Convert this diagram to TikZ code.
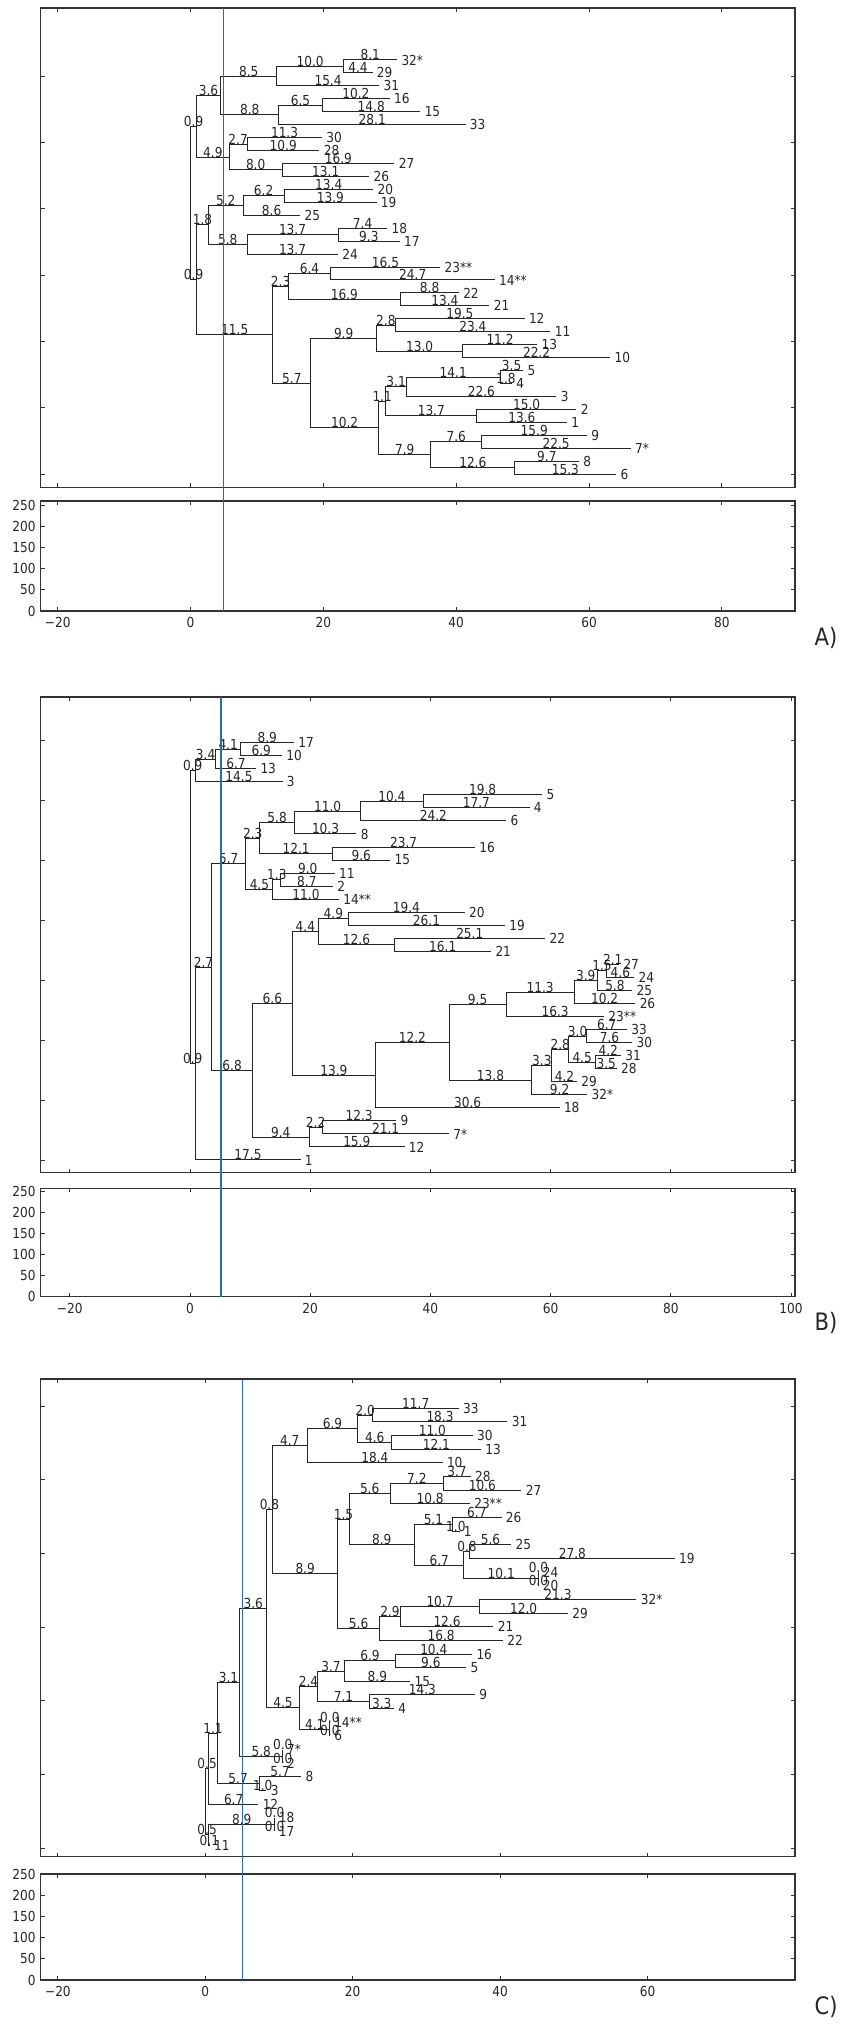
\documentclass[tikz,border=0pt]{standalone}
\usepackage{fontspec}
\setmainfont{DejaVu Sans}[FakeStretch=0.88]
\definecolor{cutblue}{RGB}{45,110,155}

\tikzset{
	brline/.style={line width=0.5pt, black!85},
	brlabel/.style={anchor=base, inner sep=0pt, text=black!85, font=\fontsize{6.9}{8}\selectfont},
	leaflabel/.style={anchor=west, inner sep=0pt, xshift=2pt, text=black!85, font=\fontsize{6.9}{8}\selectfont},
	axbox/.style={line width=0.75pt, black!80},
	axtick/.style={line width=0.5pt, black!80},
	ticklabel/.style={inner sep=0pt, text=black!85, font=\fontsize{6.9}{8}\selectfont},
	panellabel/.style={inner sep=0pt, text=black!85, font=\fontsize{12}{14}\selectfont},
	cutline/.style={line width=0.6pt, cutblue},
}

% one branch: name, parent, length, row
\newcommand{\clade}[4]{%
	\path (#2 |- 0,#4) ++(#3,0) coordinate (#1);
	\draw[brline] (#2) |- (#1) node[brlabel, pos=0.75] (#1-bl) {#3};
}
% a tip: name, parent, length, row, text
\newcommand{\leaf}[5]{%
	\clade{#1}{#2}{#3}{#4}
	\node[leaflabel] (#1-tx) at (#1) {#5};
}
% frames: tag, x of 0, px per unit, x ticks, top, bottom, lower top, lower bottom, y ticks
\newcommand{\axframes}[9]{%
	\draw[axbox] (40.7,#5) rectangle (795,#6);
	\draw[axbox] (40.7,#7) rectangle (795,#8);
	\foreach \v/\t in {#4}{
		\draw[axtick] (#2+#3*\v,#5) -- ++(0,4);
		\draw[axtick] (#2+#3*\v,#6) -- ++(0,-4);
		\draw[axtick] (#2+#3*\v,#7) -- ++(0,4);
		\draw[axtick] (#2+#3*\v,#8) -- ++(0,-4);
		\node[ticklabel] (#1x\v) at (#2+#3*\v,#8+11.5) {\t};
	}
	\foreach \u in {#9}{
		\draw[axtick] (40.7,\u) -- ++(4,0);
		\draw[axtick] (795,\u) -- ++(-4,0);
	}
	\foreach \v in {0,50,...,250}{
		\draw[axtick] (40.7,#8-0.4216*\v) -- ++(4,0);
		\draw[axtick] (795,#8-0.4216*\v) -- ++(-4,0);
		\node[ticklabel, anchor=east] (#1y\v) at (36,#8-0.4216*\v) {\v};
	}
}

\begin{document}
\begin{tikzpicture}[x=0.5pt, y=-0.5pt]
	\useasboundingbox (0,0) rectangle (851,2032);

	% A)
	\axframes{A}{190.6}{6.64}{-20/−20,0/0,20/20,40/40,60/60,80/80}{8}{487.3}{501}{611}{76.3,142.6,208.9,275.2,341.5,407.8,474.1}
	\begin{scope}[shift={(190.6,47.06)}, x=3.32pt, y=-6.47pt]
		\coordinate (a0) at (0,12.06);
		\clade{aT}{a0}{0.9}{6.125}
		\clade{aT1}{aT}{3.6}{3.75}
		\clade{aT11}{aT1}{8.5}{2.25}
		\clade{aT111}{aT11}{10.0}{1.5}
		\leaf{aL32}{aT111}{8.1}{1}{32*}
		\leaf{aL29}{aT111}{4.4}{2}{29}
		\leaf{aL31}{aT11}{15.4}{3}{31}
		\clade{aT12}{aT1}{8.8}{5.25}
		\clade{aT121}{aT12}{6.5}{4.5}
		\leaf{aL16}{aT121}{10.2}{4}{16}
		\leaf{aL15}{aT121}{14.8}{5}{15}
		\leaf{aL33}{aT12}{28.1}{6}{33}
		\clade{aT2}{aT}{4.9}{8.5}
		\clade{aT21}{aT2}{2.7}{7.5}
		\leaf{aL30}{aT21}{11.3}{7}{30}
		\leaf{aL28}{aT21}{10.9}{8}{28}
		\clade{aT22}{aT2}{8.0}{9.5}
		\leaf{aL27}{aT22}{16.9}{9}{27}
		\leaf{aL26}{aT22}{13.1}{10}{26}
		\clade{aS}{a0}{0.9}{17.992}
		\clade{aU}{aS}{1.8}{13.75}
		\clade{aU1}{aU}{5.2}{12.25}
		\clade{aU11}{aU1}{6.2}{11.5}
		\leaf{aL20}{aU11}{13.4}{11}{20}
		\leaf{aL19}{aU11}{13.9}{12}{19}
		\leaf{aL25}{aU1}{8.6}{13}{25}
		\clade{aU2}{aU}{5.8}{15.25}
		\clade{aU21}{aU2}{13.7}{14.5}
		\leaf{aL18}{aU21}{7.4}{14}{18}
		\leaf{aL17}{aU21}{9.3}{15}{17}
		\leaf{aL24}{aU2}{13.7}{16}{24}
		\clade{aQ}{aS}{11.5}{22.234}
		\clade{aQ1}{aQ}{2.3}{18.5}
		\clade{aQ11}{aQ1}{6.4}{17.5}
		\leaf{aL23}{aQ11}{16.5}{17}{23**}
		\leaf{aL14}{aQ11}{24.7}{18}{14**}
		\clade{aQ12}{aQ1}{16.9}{19.5}
		\leaf{aL22}{aQ12}{8.8}{19}{22}
		\leaf{aL21}{aQ12}{13.4}{20}{21}
		\clade{aQ2}{aQ}{5.7}{25.969}
		\clade{aQ21}{aQ2}{9.9}{22.5}
		\clade{aQ211}{aQ21}{2.8}{21.5}
		\leaf{aL12}{aQ211}{19.5}{21}{12}
		\leaf{aL11}{aQ211}{23.4}{22}{11}
		\clade{aQ212}{aQ21}{13.0}{23.5}
		\leaf{aL13}{aQ212}{11.2}{23}{13}
		\leaf{aL10}{aQ212}{22.2}{24}{10}
		\clade{aQ22}{aQ2}{10.2}{29.438}
		\clade{aQ221}{aQ22}{1.1}{27.375}
		\clade{aQ2211}{aQ221}{3.1}{26.25}
		\clade{aQ22111}{aQ2211}{14.1}{25.5}
		\leaf{aL5}{aQ22111}{3.5}{25}{5}
		\leaf{aL4}{aQ22111}{1.8}{26}{4}
		\leaf{aL3}{aQ2211}{22.6}{27}{3}
		\clade{aQ2212}{aQ221}{13.7}{28.5}
		\leaf{aL2}{aQ2212}{15.0}{28}{2}
		\leaf{aL1}{aQ2212}{13.6}{29}{1}
		\clade{aQ222}{aQ22}{7.9}{31.5}
		\clade{aQ2221}{aQ222}{7.6}{30.5}
		\leaf{aL9}{aQ2221}{15.9}{30}{9}
		\leaf{aL7}{aQ2221}{22.5}{31}{7*}
		\clade{aQ2222}{aQ222}{12.6}{32.5}
		\leaf{aL8}{aQ2222}{9.7}{32}{8}
		\leaf{aL6}{aQ2222}{15.3}{33}{6}
	\end{scope}
	\draw[cutline] (190.6+5*6.64,8) -- (190.6+5*6.64,611);
	\node[panellabel] (labA) at (826,637.6) {A)};

	% B)
	\axframes{B}{190}{6.01}{-20/−20,0/0,20/20,40/40,60/60,80/80,100/100}{697}{1172.7}{1188.3}{1296.7}{740,800,...,1160}
	\begin{scope}[shift={(190,729.66)}, x=3.005pt, y=-6.52pt]
		\coordinate (b0) at (0,14.363);
		\clade{bT}{b0}{0.9}{3.125}
		\clade{bT1}{bT}{3.4}{2.25}
		\clade{bT11}{bT1}{4.1}{1.5}
		\leaf{bL17}{bT11}{8.9}{1}{17}
		\leaf{bL10}{bT11}{6.9}{2}{10}
		\leaf{bL13}{bT1}{6.7}{3}{13}
		\leaf{bL3}{bT}{14.5}{4}{3}
		\clade{bS}{b0}{0.9}{25.600}
		\clade{bU}{bS}{2.7}{18.201}
		\clade{bU1}{bU}{5.7}{10.281}
		\clade{bU11}{bU1}{2.3}{8.3125}
		\clade{bU111}{bU11}{5.8}{7.125}
		\clade{bU1111}{bU111}{11.0}{6.25}
		\clade{bU11111}{bU1111}{10.4}{5.5}
		\leaf{bL5}{bU11111}{19.8}{5}{5}
		\leaf{bL4}{bU11111}{17.7}{6}{4}
		\leaf{bL6}{bU1111}{24.2}{7}{6}
		\leaf{bL8}{bU111}{10.3}{8}{8}
		\clade{bU112}{bU11}{12.1}{9.5}
		\leaf{bL16}{bU112}{23.7}{9}{16}
		\leaf{bL15}{bU112}{9.6}{10}{15}
		\clade{bU12}{bU1}{4.5}{12.25}
		\clade{bU121}{bU12}{1.3}{11.5}
		\leaf{bL11}{bU121}{9.0}{11}{11}
		\leaf{bL2}{bU121}{8.7}{12}{2}
		\leaf{bL14}{bU12}{11.0}{13}{14**}
		\clade{bU2}{bU}{6.8}{26.121}
		\clade{bU21}{bU2}{6.6}{20.992}
		\clade{bU211}{bU21}{4.4}{15.5}
		\clade{bU2111}{bU211}{4.9}{14.5}
		\leaf{bL20}{bU2111}{19.4}{14}{20}
		\leaf{bL19}{bU2111}{26.1}{15}{19}
		\clade{bU2112}{bU211}{12.6}{16.5}
		\leaf{bL22}{bU2112}{25.1}{16}{22}
		\leaf{bL21}{bU2112}{16.1}{17}{21}
		\clade{bU212}{bU21}{13.9}{26.484}
		\clade{bU2121}{bU212}{12.2}{23.969}
		\clade{bV}{bU2121}{9.5}{21.063}
		\clade{bV1}{bV}{11.3}{20.125}
		\clade{bV11}{bV1}{3.9}{19.25}
		\clade{bV111}{bV11}{1.5}{18.5}
		\leaf{bL27}{bV111}{2.1}{18}{27}
		\leaf{bL24}{bV111}{4.6}{19}{24}
		\leaf{bL25}{bV11}{5.8}{20}{25}
		\leaf{bL26}{bV1}{10.2}{21}{26}
		\leaf{bL23}{bV}{16.3}{22}{23**}
		\clade{bW}{bU2121}{13.8}{26.875}
		\clade{bW1}{bW}{3.3}{25.75}
		\clade{bW11}{bW1}{2.8}{24.5}
		\clade{bW111}{bW11}{3.0}{23.5}
		\leaf{bL33}{bW111}{6.7}{23}{33}
		\leaf{bL30}{bW111}{7.6}{24}{30}
		\clade{bW112}{bW11}{4.5}{25.5}
		\leaf{bL31}{bW112}{4.2}{25}{31}
		\leaf{bL28}{bW112}{3.5}{26}{28}
		\leaf{bL29}{bW1}{4.2}{27}{29}
		\leaf{bL32}{bW}{9.2}{28}{32*}
		\leaf{bL18}{bU212}{30.6}{29}{18}
		\clade{bU22}{bU2}{9.4}{31.25}
		\clade{bU221}{bU22}{2.2}{30.5}
		\leaf{bL9}{bU221}{12.3}{30}{9}
		\leaf{bL7}{bU221}{21.1}{31}{7*}
		\leaf{bL12}{bU22}{15.9}{32}{12}
		\leaf{bL1}{bS}{17.5}{33}{1}
	\end{scope}
	\draw[cutline] (221,697) -- (221,1296.7);
	\node[panellabel] (labB) at (826,1323.3) {B)};

	% C)
	\axframes{C}{205.3}{7.37}{-20/−20,0/0,20/20,40/40,60/60}{1379}{1856.7}{1874}{1980}{1406,1479.7,1553.3,1627,1700.7,1774.3,1848}
	\begin{scope}[shift={(205.3,1394.65)}, x=3.685pt, y=-6.825pt]
		\coordinate (c0) at (0,29.824);
		\clade{cU}{c0}{0.5}{27.398}
		\clade{cV}{cU}{1.1}{24.797}
		\clade{cW}{cV}{3.1}{21.094}
		\clade{cX}{cW}{3.6}{15.688}
		\clade{cY}{cX}{0.8}{8.4375}
		\clade{cY1}{cY}{4.7}{3.75}
		\clade{cY11}{cY1}{6.9}{2.5}
		\clade{cY111}{cY11}{2.0}{1.5}
		\leaf{cL33}{cY111}{11.7}{1}{33}
		\leaf{cL31}{cY111}{18.3}{2}{31}
		\clade{cY112}{cY11}{4.6}{3.5}
		\leaf{cL30}{cY112}{11.0}{3}{30}
		\leaf{cL13}{cY112}{12.1}{4}{13}
		\leaf{cL10}{cY1}{18.4}{5}{10}
		\clade{cY2}{cY}{8.9}{13.125}
		\clade{cY21}{cY2}{1.5}{9.125}
		\clade{cY211}{cY21}{5.6}{7.25}
		\clade{cY2111}{cY211}{7.2}{6.5}
		\leaf{cL28}{cY2111}{3.7}{6}{28}
		\leaf{cL27}{cY2111}{10.6}{7}{27}
		\leaf{cL23}{cY211}{10.8}{8}{23**}
		\clade{cY212}{cY21}{8.9}{11}
		\clade{cY2121}{cY212}{5.1}{9.5}
		\leaf{cL26}{cY2121}{6.7}{9}{26}
		\leaf{cL1}{cY2121}{1.0}{10}{1}
		\clade{cY2122}{cY212}{6.7}{12.5}
		\clade{cY21221}{cY2122}{0.8}{11.5}
		\leaf{cL25}{cY21221}{5.6}{11}{25}
		\leaf{cL19}{cY21221}{27.8}{12}{19}
		\clade{cY21222}{cY2122}{10.1}{13.5}
		\leaf{cL24}{cY21222}{0.0}{13}{24}
		\leaf{cL20}{cY21222}{0.0}{14}{20}
		\clade{cY22}{cY2}{5.6}{17.125}
		\clade{cY221}{cY22}{2.9}{16.25}
		\clade{cY2211}{cY221}{10.7}{15.5}
		\leaf{cL32}{cY2211}{21.3}{15}{32*}
		\leaf{cL29}{cY2211}{12.0}{16}{29}
		\leaf{cL21}{cY221}{12.6}{17}{21}
		\leaf{cL22}{cY22}{16.8}{18}{22}
		\clade{cZ}{cX}{4.5}{22.9375}
		\clade{cZ1}{cZ}{2.4}{21.375}
		\clade{cZ11}{cZ1}{3.7}{20.25}
		\clade{cZ111}{cZ11}{6.9}{19.5}
		\leaf{cL16}{cZ111}{10.4}{19}{16}
		\leaf{cL5}{cZ111}{9.6}{20}{5}
		\leaf{cL15}{cZ11}{8.9}{21}{15}
		\clade{cZ12}{cZ1}{7.1}{22.5}
		\leaf{cL9}{cZ12}{14.3}{22}{9}
		\leaf{cL4}{cZ12}{3.3}{23}{4}
		\clade{cZ2}{cZ}{4.1}{24.5}
		\leaf{cL14}{cZ2}{0.0}{24}{14**}
		\leaf{cL6}{cZ2}{0.0}{25}{6}
		\clade{cW2}{cW}{5.8}{26.5}
		\leaf{cL7}{cW2}{0.0}{26}{7*}
		\leaf{cL2}{cW2}{0.0}{27}{2}
		\clade{cV2}{cV}{5.7}{28.5}
		\leaf{cL8}{cV2}{5.7}{28}{8}
		\leaf{cL3}{cV2}{1.0}{29}{3}
		\leaf{cL12}{cU}{6.7}{30}{12}
		\clade{cR}{c0}{0.5}{32.25}
		\clade{cR1}{cR}{8.9}{31.5}
		\leaf{cL18}{cR1}{0.0}{31}{18}
		\leaf{cL17}{cR1}{0.0}{32}{17}
		\leaf{cL11}{cR}{0.1}{33}{11}
	\end{scope}
	\draw[cutline] (205.3+5*7.37,1379) -- (205.3+5*7.37,1980);
	\node[panellabel] (labC) at (826,2006.6) {C)};
\end{tikzpicture}
\end{document}
